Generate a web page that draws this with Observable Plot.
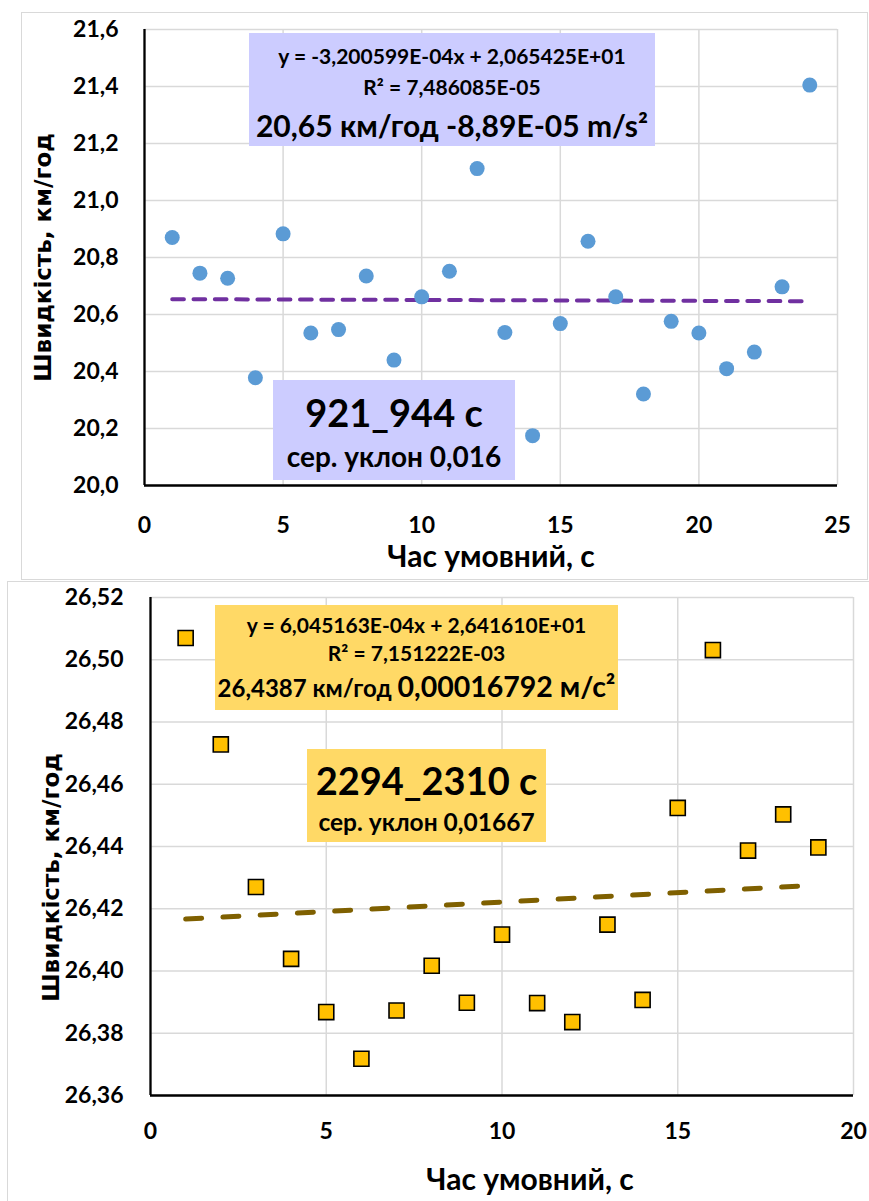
<!DOCTYPE html>
<html>
<head>
<meta charset="utf-8">
<script src="https://cdn.jsdelivr.net/npm/d3@7"></script>
<script src="https://cdn.jsdelivr.net/npm/@observablehq/plot@0.6"></script>
<style>
  html, body { margin: 0; padding: 0; background: #fff; }
  body { width: 869px; height: 1201px; position: relative; overflow: hidden; font-family: Lato, "Open Sans", sans-serif; }
  .panel { position: absolute; border: 1px solid #d9d9d9; box-sizing: border-box; background: #fff; }
  .chart { position: absolute; }
  .box { position: absolute; display: flex; flex-direction: column; align-items: center; font-weight: bold; color: #000; white-space: nowrap; }
  .box div { text-align: center; }
</style>
</head>
<body>
<div class="panel" style="left:21px;top:12px;width:847px;height:568px;"></div>
<div class="panel" style="left:7px;top:581px;width:870px;height:630px;"></div>
<div id="top" class="chart" style="left:21px;top:12px;"></div>
<div id="bottom" class="chart" style="left:7px;top:581px;"></div>

<div class="box" style="left:249px;top:33px;width:406px;height:113px;background:#ccccff;">
  <div style="font-size:21px;line-height:28px;margin-top:9px;">y = -3,200599E-04x + 2,065425E+01</div>
  <div style="font-size:21px;line-height:34px;">R² = 7,486085E-05</div>
  <div style="font-size:30px;line-height:42px;">20,65 км/год -8,89E-05 m/s²</div>
</div>
<div class="box" style="left:273px;top:380px;width:242px;height:100px;background:#ccccff;">
  <div style="font-size:38px;line-height:54px;margin-top:5px;">921_944 с</div>
  <div style="font-size:28px;line-height:34px;">сер. уклон 0,016</div>
</div>

<div class="box" style="left:215px;top:605px;width:403px;height:105px;background:#ffd966;">
  <div style="font-size:21px;line-height:28px;margin-top:6px;">y = 6,045163E-04x + 2,641610E+01</div>
  <div style="font-size:21px;line-height:28px;">R² = 7,151222E-03</div>
  <div style="line-height:38px;"><span style="font-size:24px;">26,4387 км/год </span><span style="font-size:28.5px;">0,00016792 м/с²</span></div>
</div>
<div class="box" style="left:307px;top:749px;width:239px;height:93px;background:#ffd966;">
  <div style="font-size:38px;line-height:54px;margin-top:4px;">2294_2310 с</div>
  <div style="font-size:24.5px;line-height:30px;">сер. уклон 0,01667</div>
</div>

<script>
// ---- Top chart data (921_944 s) ----
const topTime = [1, 2, 3, 4, 5, 6, 7, 8, 9, 10, 11, 12, 13, 14, 15, 16, 17, 18, 19, 20, 21, 22, 23, 24];
const topSpeed = [20.87, 20.745, 20.727, 20.378, 20.883, 20.535, 20.547, 20.735, 20.44, 20.662,
                  20.752, 21.112, 20.537, 20.175, 20.568, 20.857, 20.662, 20.321, 20.576, 20.535,
                  20.41, 20.468, 20.697, 21.405];
const topTrendTime = [1, 24];
const topTrendSpeed = [20.6539, 20.6466];
const topXTicks = [0, 5, 10, 15, 20, 25];
const topYTicks = [20.0, 20.2, 20.4, 20.6, 20.8, 21.0, 21.2, 21.4, 21.6];

// ---- Bottom chart data (2294_2310 s) ----
const botTime = [1, 2, 3, 4, 5, 6, 7, 8, 9, 10, 11, 12, 13, 14, 15, 16, 17, 18, 19];
const botSpeed = [26.507, 26.4728, 26.427, 26.4039, 26.3868, 26.3718, 26.3873, 26.4017, 26.3898, 26.4117,
                  26.3897, 26.3836, 26.4149, 26.3907, 26.4524, 26.5031, 26.4387, 26.4503, 26.4397];
const botTrendTime = [1, 18.5];
const botTrendSpeed = [26.4167, 26.4273];
const botXTicks = [0, 5, 10, 15, 20];
const botYTicks = [26.36, 26.38, 26.40, 26.42, 26.44, 26.46, 26.48, 26.50, 26.52];

const xTitle = "Час умовний, с";
const yTitle = "Швидкість, км/год";

const comma = (digits) => (d) => d.toFixed(digits).replace(".", ",");
const gridStyle = {stroke: "#d9d9d9", strokeOpacity: 1, strokeWidth: 1.5};
const font = "Lato, 'Open Sans', sans-serif";
const yTitleFont = "'DejaVu Sans', Verdana, sans-serif";

const topRows = topTime.map((t, i) => ({t, v: topSpeed[i]}));
const topTrend = topTrendTime.map((t, i) => ({t, v: topTrendSpeed[i]}));

const topPlot = Plot.plot({
  width: 846, height: 567,
  marginLeft: 123, marginTop: 17, marginRight: 30, marginBottom: 94,
  style: {fontFamily: font, fontWeight: "bold", fontSize: "23px", color: "#000", background: "transparent"},
  x: {domain: [0, 25]},
  y: {domain: [20.0, 21.6]},
  marks: [
    Plot.gridX(topXTicks, gridStyle),
    Plot.gridY(topYTicks, gridStyle),
    Plot.axisX(topXTicks, {tickSize: 0, tickPadding: 31, label: null, fontSize: 23}),
    Plot.axisY(topYTicks, {tickSize: 0, tickPadding: 26, tickFormat: comma(1), label: null, fontSize: 23}),
    Plot.ruleX([0], {stroke: "#000", strokeWidth: 2.3}),
    Plot.ruleY([20.0], {stroke: "#000", strokeWidth: 2.3}),
    Plot.line(topTrend, {x: "t", y: "v", stroke: "#7030a0", strokeWidth: 4, strokeDasharray: "11.7,9.6", strokeLinecap: "round"}),
    Plot.dot(topRows, {x: "t", y: "v", r: 7.5, fill: "#5b9bd5"}),
    Plot.text([xTitle], {frameAnchor: "bottom", dy: 81, fontSize: 30, fontWeight: "bold"}),
    Plot.text([yTitle], {frameAnchor: "left", textAnchor: "middle", rotate: -90, dx: -101, fontSize: 23, fontWeight: "bold", fontFamily: yTitleFont})
  ]
});
document.getElementById("top").append(topPlot);

const botRows = botTime.map((t, i) => ({t, v: botSpeed[i]}));
const botTrend = botTrendTime.map((t, i) => ({t, v: botTrendSpeed[i]}));

const botPlot = Plot.plot({
  width: 862, height: 620,
  marginLeft: 143, marginTop: 16, marginRight: 16, marginBottom: 106,
  style: {fontFamily: font, fontWeight: "bold", fontSize: "23px", color: "#000", background: "transparent"},
  x: {domain: [0, 20]},
  y: {domain: [26.36, 26.52]},
  marks: [
    Plot.gridX(botXTicks, gridStyle),
    Plot.gridY(botYTicks, gridStyle),
    Plot.axisX(botXTicks, {tickSize: 0, tickPadding: 27, label: null, fontSize: 23}),
    Plot.axisY(botYTicks, {tickSize: 0, tickPadding: 27, tickFormat: comma(2), label: null, fontSize: 23}),
    Plot.ruleX([0], {stroke: "#000", strokeWidth: 2.3}),
    Plot.ruleY([26.36], {stroke: "#000", strokeWidth: 2.3}),
    Plot.line(botTrend, {x: "t", y: "v", stroke: "#7f6000", strokeWidth: 5, strokeDasharray: "16,21.3", strokeLinecap: "round"}),
    Plot.dot(botRows, {x: "t", y: "v", symbol: "square", r: 8.5, fill: "#ffc000", stroke: "#000", strokeWidth: 1.6}),
    Plot.text([xTitle], {frameAnchor: "bottom", dy: 94, dx: 28, fontSize: 30, fontWeight: "bold"}),
    Plot.text([yTitle], {frameAnchor: "left", textAnchor: "middle", rotate: -90, dx: -99, dy: 31, fontSize: 23, fontWeight: "bold", fontFamily: yTitleFont})
  ]
});
document.getElementById("bottom").append(botPlot);
</script>
</body>
</html>
